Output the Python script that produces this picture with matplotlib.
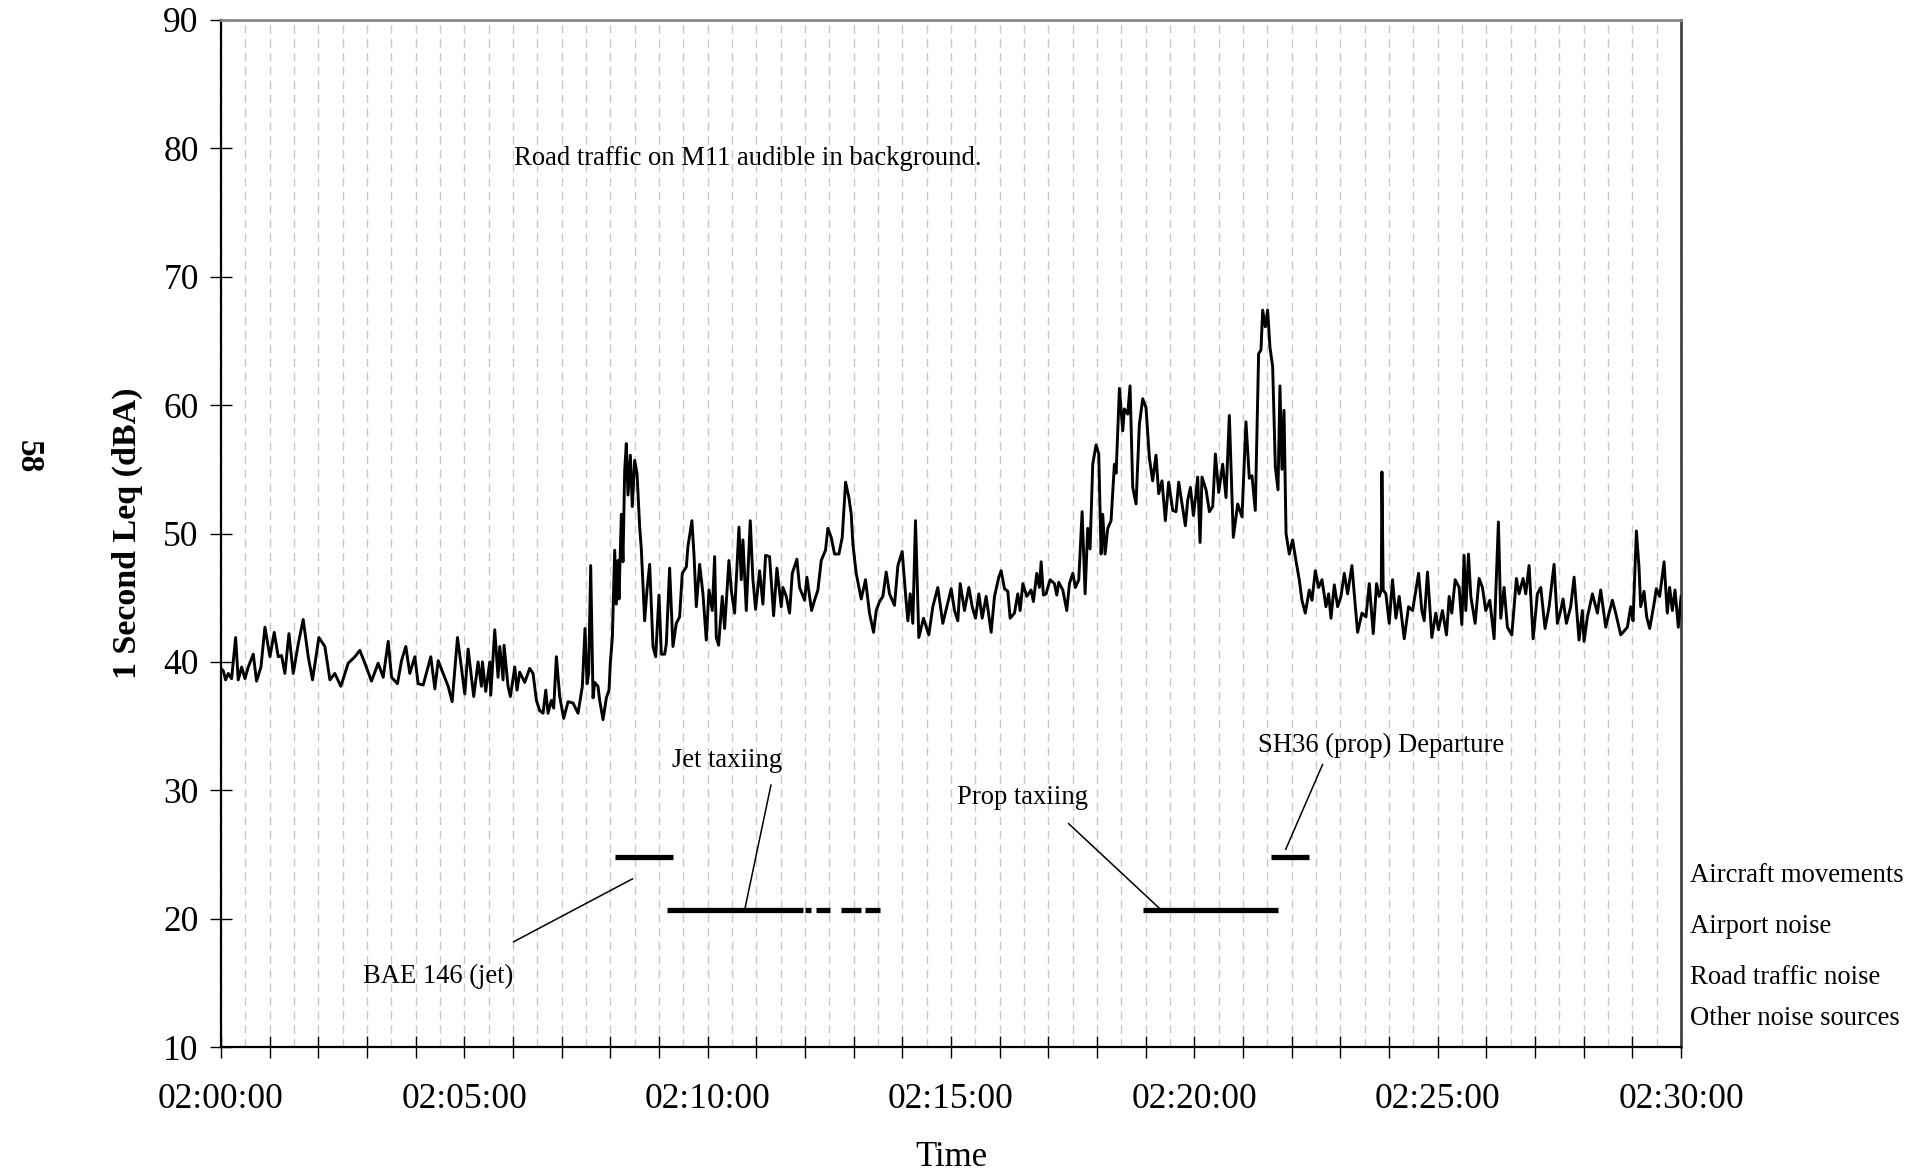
import numpy as np
import matplotlib
matplotlib.use('Agg')
from matplotlib import pyplot as plt
from matplotlib.ticker import MultipleLocator, FuncFormatter
from matplotlib.transforms import blended_transform_factory

plt.rcParams['font.family'] = ['Liberation Serif', 'DejaVu Serif']

# seconds after 02:00:00 and 1 second Leq (dBA)
secs = [0, 2.9, 5.7, 9, 13.1, 18.1, 21.3, 25.5, 29.6, 33.7, 39.8, 43.9, 49.3, 54.2, 60.4, 65.7,
        70.6, 74.7, 78.8, 83.8, 89.1, 95.3, 101.4, 107.6, 112.9, 120.7, 128.1, 134.3, 140.4,
        147.8, 156.9, 165.1, 171.2, 177.4, 185.6, 193.8, 200, 206.2, 210.3, 217.6, 222.6,
        227.9, 232.8, 239, 243.1, 249.3, 258.7, 263.7, 267.8, 273.9, 280.1, 285, 291.6,
        300.6, 304.7, 311.6, 317, 321.1, 322.3, 326.4, 331.4, 332.6, 337.5, 341.6, 343.7,
        347.8, 349, 353.9, 356.8, 362.2, 365, 368.3, 374.5, 380.6, 384.7, 388.9, 393, 397.1,
        400.4, 403.2, 407.3, 410.2, 413.5, 417.6, 422.5, 427.9, 434, 440.2, 445.5, 448.8,
        451.3, 453.3, 455.8, 458.7, 460.7, 464.8, 466.9, 471, 475.1, 478.4, 480, 482.5,
        485.4, 487.4, 489.5, 490.7, 493.6, 495.6, 497.7, 499.7, 501.8, 504.7, 507.1, 510,
        512.9, 516.2, 518.2, 522.3, 525.2, 528.5, 532.6, 535.9, 540, 542.9, 547, 549, 553.1,
        557.2, 561.3, 565.4, 568.7, 573.7, 575.7, 580.6, 583.1, 586, 590.1,
        594.2, 598.3, 601.6, 605.7, 608.6, 610.6, 613.5, 618, 620.9, 626.2, 629.1, 633.2,
        638.6, 641.4, 643.5, 647.6, 652.5, 655.8, 659.1, 664, 668.1, 671.4, 676.3, 681.3,
        685.4, 690.7, 692.8, 696.9, 701, 704.3, 710, 713.3, 719.5, 722.3, 728.1, 731.8,
        735.9, 740, 745.3, 748.2, 752.3, 756.4, 761.8, 765.9, 770, 774.1, 777, 779, 783.1,
        789.3, 794.6, 799.5, 804.5, 807.8, 811.9, 816, 820.1, 824.2, 830.3, 834.5, 839.8,
        843.9, 846.8, 849.7, 852.9, 856.2, 860.3, 866.1, 872.6, 877.6, 883.7,
        889.9, 894.8, 900.2, 904.3, 908.4, 911.3, 916.6, 922, 926.1, 930.2, 934.3, 938.4,
        943.3, 949.5, 953.6, 958.9, 961.8, 965.9, 970, 972.9, 978.2, 982.3, 985.2, 988.5,
        993.4, 998.7, 1001.6, 1005.7, 1009, 1011.1, 1013.9, 1017.2, 1022.1, 1027.5, 1030.4,
        1032.8, 1037.8, 1042.7, 1046, 1050.1, 1053.4, 1057.5, 1061.6, 1065.3, 1068.5,
        1071.4, 1074.7, 1078.8, 1082.1, 1085, 1087, 1089.9, 1093.2, 1097.3, 1101.4, 1103.5,
        1107.6, 1111.7, 1113.7, 1117.8, 1120.7, 1124, 1128.1, 1132.2, 1136.3, 1140.4,
        1144.5, 1148.6, 1152.7, 1156, 1160.1, 1164.2, 1168.3, 1173.3, 1177.4, 1180.7,
        1184.8, 1188.9, 1191.8,
        1195.1, 1198.8, 1202, 1204.1, 1207, 1209.4, 1214.4, 1218.5, 1222.6, 1225.9, 1230,
        1234.9, 1239, 1243.1, 1248, 1253.4, 1258.7, 1263.6, 1267.7, 1271, 1275.1, 1279.2,
        1282.1, 1284.2, 1287.5, 1290.3, 1293.2, 1296.5, 1299.8, 1303.1, 1305.5, 1308,
        1310.5, 1313, 1317, 1321.1, 1325.2, 1329.3, 1332.6, 1336.7, 1341.7, 1345, 1349.1,
        1353.2, 1357.3, 1362.2, 1365.5, 1368.4, 1372.5, 1376.6, 1380.7, 1384.8, 1388.9,
        1394.2, 1397.1, 1401.2, 1406.6, 1411.5, 1415.6, 1420.5, 1424.6, 1427.9, 1430.4,
        1431.2, 1432.8, 1436.1, 1440.2, 1444.3, 1448.4, 1452.5, 1458.7, 1464, 1469, 1473.1,
        1476.4,
        1480.4, 1483.3, 1487.4, 1492.7, 1497.6, 1500.9, 1505.8, 1510.8, 1514.1, 1517.3,
        1521.5, 1526.4, 1529.7, 1532.5, 1534.6, 1537.9, 1540.8, 1546.1, 1551, 1555.1,
        1559.2, 1564.2, 1569.5, 1574.8, 1577.7, 1581.8, 1585.9, 1591.3, 1597, 1600.3,
        1605.2, 1608.5, 1612.6, 1617.6, 1622.9, 1627, 1632.3, 1637.3, 1643.4, 1647.5,
        1651.6, 1654.5, 1658.6, 1663.9, 1668.1, 1674.2, 1678.3, 1680.4, 1684.5, 1690.7,
        1696.8, 1700.9, 1707.1, 1711.2, 1715.3, 1719.4, 1725.6, 1733.8, 1737.9, 1740.8,
        1744.9, 1748.1, 1750.2, 1754.3, 1757.6, 1761.3, 1766.6, 1769.5, 1773.6, 1779, 1783,
        1785.9, 1789.2, 1792.5, 1796.6, 1800]
leq = [39.5, 39.3, 38.6, 39.1, 38.7, 41.9, 38.6, 39.6, 38.7, 39.6, 40.6, 38.5, 39.6, 42.7, 40.4, 42.3,
       40.4, 40.5, 39.1, 42.2, 39.1, 41.4, 43.3, 40.4, 38.6, 41.9, 41.2, 38.6, 39.1,
       38.1, 39.9, 40.4, 40.9, 39.9, 38.5, 39.9, 38.8, 41.6, 38.8, 38.3, 40.1,
       41.2, 39.1, 40.4, 38.3, 38.2, 40.4, 37.9, 40.1, 39.1, 38.1, 36.9, 41.9,
       37.5, 41.0, 37.3, 40.0, 38.1, 40.0, 37.7, 40.0, 37.4, 42.5, 38.8, 41.2,
       38.6, 41.3, 38.1, 37.3, 39.6, 37.8, 39.2, 38.4, 39.5, 39.1, 37.0, 36.2, 36.0,
       37.8, 36.0, 37.0, 36.4, 40.4, 37.3, 35.6, 36.9, 36.8, 36.0, 38.1, 42.6,
       38.3, 39.1, 47.5, 37.2, 38.4, 38.1, 37.0, 35.5, 37.2, 37.8, 39.9, 41.9,
       48.7, 44.5, 47.9, 44.9, 51.5, 47.8, 54.9, 57.0, 53.0, 56.1, 52.1, 55.7,
       54.7, 50.5, 48.8, 43.2, 45.6, 47.6, 41.2, 40.4, 45.2, 40.6, 40.6, 41.4, 47.3,
       41.2, 43.0, 43.5, 46.9, 47.4, 49.0, 51.0, 48.4, 44.3, 47.6,
       45.3, 41.7, 45.6, 44.0, 48.2, 41.9, 41.3, 45.1, 42.6, 47.9, 45.6, 43.8,
       50.5, 46.4, 49.5, 44.0, 51.0, 46.4, 44.1, 47.1, 44.5, 48.3, 48.2, 43.6,
       47.3, 44.3, 45.8, 45.1, 43.8, 46.9, 48.0, 45.8, 44.8, 46.6, 44.0, 44.8,
       45.6, 47.9, 48.7, 50.4, 49.7, 48.4, 48.4, 49.7, 54.0, 52.8, 51.5, 49.2, 46.9,
       44.9, 46.4, 43.8, 42.3, 44.0, 44.7, 45.1, 47.0, 45.3, 44.4, 47.5, 48.6,
       45.3, 43.2, 45.3, 43.0, 51.0, 41.9, 43.4, 42.1, 44.3, 45.8,
       43.0, 44.3, 45.7, 44.0, 43.2, 46.1, 44.0, 45.8, 44.3, 43.4, 45.3, 43.4,
       45.1, 42.3, 45.1, 46.6, 47.1, 45.7, 45.5, 43.4, 43.8, 45.3, 44.0, 46.1,
       45.1, 45.6, 44.7, 46.9, 45.8, 47.8, 45.2, 45.3, 46.4, 46.1, 45.2,
       46.2, 45.6, 44.0, 46.1, 46.9, 45.8, 46.4, 51.7, 45.3, 50.4,
       48.8, 55.4, 56.9, 56.2, 48.4, 51.5, 48.4, 50.4, 51.0, 55.4, 54.7,
       61.3, 58.0, 59.7, 59.3, 61.5, 53.6, 52.3, 58.5, 60.5, 59.8,
       55.9, 54.1, 56.1, 53.1, 54.1, 51.0, 54.0, 51.8, 51.7, 54.0,
       52.3, 50.6, 52.6,
       53.6, 51.4, 53.1, 54.4, 49.3, 54.4, 53.4, 51.7, 52.1, 56.2, 53.2,
       55.4, 52.8, 59.2, 49.7, 52.3, 51.3, 58.7, 54.3, 54.5, 51.8, 64.0,
       64.3, 67.4, 66.1, 67.4, 64.5, 63.0, 55.2, 53.4, 61.5, 55.0,
       59.6, 50.0, 48.4, 49.5, 47.9, 46.4, 44.8, 43.8, 45.6, 44.8, 47.1,
       45.8, 46.4, 44.3, 45.3, 43.4, 46.0, 44.3, 45.1, 46.9, 45.3,
       47.5, 45.3, 42.3, 43.8, 43.5, 46.1, 42.2, 46.1, 45.1, 45.6,
       54.8, 45.6, 45.3, 43.0, 46.4, 43.4, 45.1, 41.8, 44.3, 44.0, 45.6,
       46.9,
       44.0, 43.2, 47.0, 41.9, 43.8, 42.5, 44.0, 42.1, 45.1, 43.8,
       46.4, 45.8, 42.9, 48.3, 44.0, 48.4, 45.1, 43.0, 46.5, 45.8,
       44.0, 44.8, 41.8, 50.9, 43.4, 45.8, 42.7, 42.1, 46.5, 45.3,
       46.5, 45.3, 47.5, 41.8, 45.3, 45.8, 42.6, 44.3, 47.6, 43.0,
       44.0, 44.9, 43.0, 44.3, 46.6, 41.7, 44.0, 41.6, 43.5, 45.3,
       43.8, 45.6, 42.7, 43.8, 44.8, 43.8, 42.1, 42.7, 44.3, 43.2,
       50.2, 47.4, 44.3, 45.5, 43.5, 42.6, 44.5, 45.7, 45.1, 47.8, 43.8,
       45.8, 44.0, 45.6, 42.7, 45.1]

# event bars (start, end in seconds) and the row level they sit on
aircraft_movements = [(486, 557), (1295, 1341)]
airport_noise = [(550, 717), (720, 728), (734, 751), (764, 789), (794, 813), (1137, 1303)]
aircraft_row = 24.8
airport_row = 20.7

row_labels = ['Aircraft movements', 'Airport noise', 'Road traffic noise', 'Other noise sources']
row_label_y = [23.4, 19.4, 15.4, 12.2]


def hms(s, pos=None):
    s = int(round(s))
    if s % 300 != 0:
        return ''
    return '02:%02d:%02d' % (s // 60, s % 60)


fig = plt.figure(figsize=(19.23, 11.75), dpi=100)
ax = fig.add_axes([0.1149, 0.1089, 0.7593, 0.8741])

ax.plot(secs, leq, color='black', lw=2.1, zorder=3)

for a, b in aircraft_movements:
    ax.plot([a, b], [aircraft_row, aircraft_row], color='black', lw=3.8, solid_capstyle='butt')
for a, b in airport_noise:
    ax.plot([a, b], [airport_row, airport_row], color='black', lw=3.8, solid_capstyle='butt')

# leader lines and notes
ax.plot([360.8, 507.3], [18.2, 23.1], color='black', lw=1.1)
ax.plot([678, 646], [30.4, 20.8], color='black', lw=1.1)
ax.plot([1045, 1157], [27.4, 20.8], color='black', lw=1.1)
ax.plot([1358, 1312.6], [32.0, 25.4], color='black', lw=1.1)

note_size = 19.2
ax.text(361, 79.2, 'Road traffic on M11 audible in background.', fontsize=note_size, ha='left', va='center')
ax.text(624.5, 32.3, 'Jet taxiing', fontsize=note_size, ha='center', va='center')
ax.text(988.6, 29.4, 'Prop taxiing', fontsize=note_size, ha='center', va='center')
ax.text(1430, 33.5, 'SH36 (prop) Departure', fontsize=note_size, ha='center', va='center')
ax.text(268, 15.5, 'BAE 146 (jet)', fontsize=note_size, ha='center', va='center')

trans = blended_transform_factory(ax.transAxes, ax.transData)
for lab, yy in zip(row_labels, row_label_y):
    ax.text(1.006, yy, lab, transform=trans, fontsize=note_size, ha='left', va='center', clip_on=False)

ax.set_xlim(0, 1800)
ax.set_ylim(10, 90)
ax.xaxis.set_major_locator(MultipleLocator(60))
ax.xaxis.set_minor_locator(MultipleLocator(30))
ax.xaxis.set_major_formatter(FuncFormatter(hms))
ax.yaxis.set_major_locator(MultipleLocator(10))
ax.grid(axis='x', which='both', color='#c8c8c8', linestyle=(0, (6, 4)), lw=1.0, zorder=0)

ax.tick_params(axis='both', which='major', direction='inout', length=16, width=1.0, labelsize=25.5)
ax.tick_params(axis='x', which='minor', length=0)
ax.tick_params(axis='y', pad=8)
ax.tick_params(axis='x', pad=18)

ax.spines['left'].set_linewidth(1.6)
ax.spines['bottom'].set_linewidth(1.6)
ax.spines['top'].set_color('#888888')
ax.spines['top'].set_linewidth(2.0)
ax.spines['right'].set_color('#444444')
ax.spines['right'].set_linewidth(2.0)

fig.text(127.5 / 1923, 1 - 533 / 1175, '1 Second Leq (dBA)', rotation=90, fontsize=24.5,
         fontweight='bold', ha='center', va='center')
fig.text(951.7 / 1923, 1 - 1158 / 1175, 'Time', fontsize=25, ha='center', va='center')
fig.text(28 / 1923, 1 - 457 / 1175, '58', rotation=-90, fontsize=24, fontweight='bold',
         ha='center', va='center')

fig.savefig('out.png', dpi=100)
